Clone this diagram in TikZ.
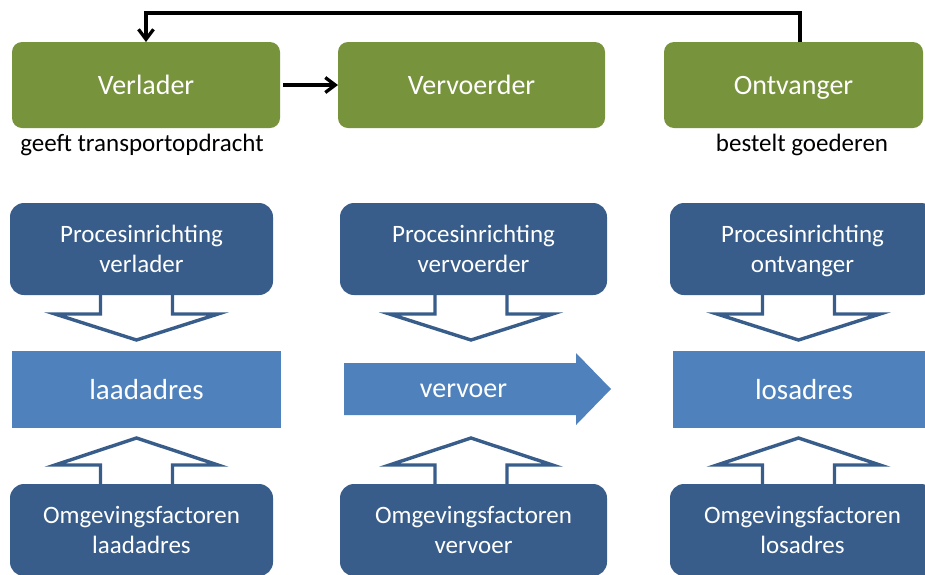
\documentclass[tikz,border=0pt]{standalone}
\usepackage{fontspec}
\setmainfont{Carlito}
\usetikzlibrary{arrows.meta}
\definecolor{gr}{HTML}{77933C}
\definecolor{db}{HTML}{385D8A}
\definecolor{lb}{HTML}{4F81BD}
\tikzset{
  gbox/.style={fill=gr, draw=none, rounded corners=10pt, inner sep=0pt, outer sep=0pt,
    text=white, font=\fontsize{28}{32}\selectfont, text depth=0pt},
  dbox/.style={fill=db, draw=none, rounded corners=14pt, inner sep=0pt, outer sep=0pt,
    text=white, align=center, font=\fontsize{25}{29.5}\selectfont, text depth=0pt,
    minimum height=92pt},
  lbox/.style={fill=lb, draw=none, inner sep=0pt, outer sep=0pt, text=white,
    font=\fontsize{29}{33}\selectfont, text depth=0pt, minimum height=77pt},
  lbl/.style={inner sep=0pt, font=\fontsize{25}{29}\selectfont},
  hollow/.style={draw=db, fill=white, line width=3.4pt, line join=miter},
  arr/.style={line width=3.3pt, -{Straight Barb[length=10pt,width=15pt,line width=3.3pt]}}
}
\begin{document}
\begin{tikzpicture}[x=1pt,y=-1pt]
\useasboundingbox (0,0) rectangle (925,574);
\clip (0,0) rectangle (925,574);
% hollow block arrows
\foreach \c in {136.5,471,798.5}{
  \draw[hollow] ({\c-36},285) -- ({\c-36},314) -- ({\c-81.5},314) -- (\c,340)
     -- ({\c+81.5},314) -- ({\c+36},314) -- ({\c+36},285);
  \draw[hollow] ({\c-36},495) -- ({\c-36},465) -- ({\c-81.5},465) -- (\c,438)
     -- ({\c+81.5},465) -- ({\c+36},465) -- ({\c+36},495);
}
% green actors
\node[gbox, minimum width=268pt, minimum height=86pt] (verlader) at (146,85) {Verlader};
\node[gbox, minimum width=267pt, minimum height=86pt] (vervoerder) at (471.5,85) {Vervoerder};
\node[gbox, minimum width=259pt, minimum height=86pt] (ontvanger) at (793.5,85) {Ontvanger};
\node[lbl, anchor=base] (geeft) at (142,151) {geeft transportopdracht};
\node[lbl, anchor=base] (bestelt) at (802,151) {bestelt goederen};
% connectors
\coordinate (top) at (0,13);
\draw[arr, shorten <=3pt] (verlader) -- (vervoerder);
\draw[arr, line join=miter] ([xshift=6.5pt]ontvanger.north) |- (top -| verlader.north) -- (verlader.north);
% process boxes
\node[dbox, minimum width=263pt] (pv) at (141.5,249) {Procesinrichting\\verlader};
\node[dbox, minimum width=267pt] (pvv) at (473.5,249) {Procesinrichting\\vervoerder};
\node[dbox, minimum width=265pt] (po) at (802.5,249) {Procesinrichting\\ontvanger};
% environment boxes
\node[dbox, minimum width=263pt] (ov) at (141.5,530) {Omgevingsfactoren\\laadadres};
\node[dbox, minimum width=267pt] (ovv) at (473.5,530) {Omgevingsfactoren\\vervoer};
\node[dbox, minimum width=265pt] (oo) at (802.5,530) {Omgevingsfactoren\\losadres};
% middle row
\node[lbox, minimum width=269pt] (laad) at (146.5,389.5) {laadadres};
\node[lbox, minimum width=262pt] (los) at (804,389.5) {losadres};
\fill[lb] (344,363) -- (576,363) -- (576,353) -- (611,389) -- (576,425) -- (576,415) -- (344,415) -- cycle;
\node[text=white, inner sep=0pt, font=\fontsize{28}{32}\selectfont, text depth=0pt] (vervoer) at (463.5,391) {vervoer};
\end{tikzpicture}
\end{document}
